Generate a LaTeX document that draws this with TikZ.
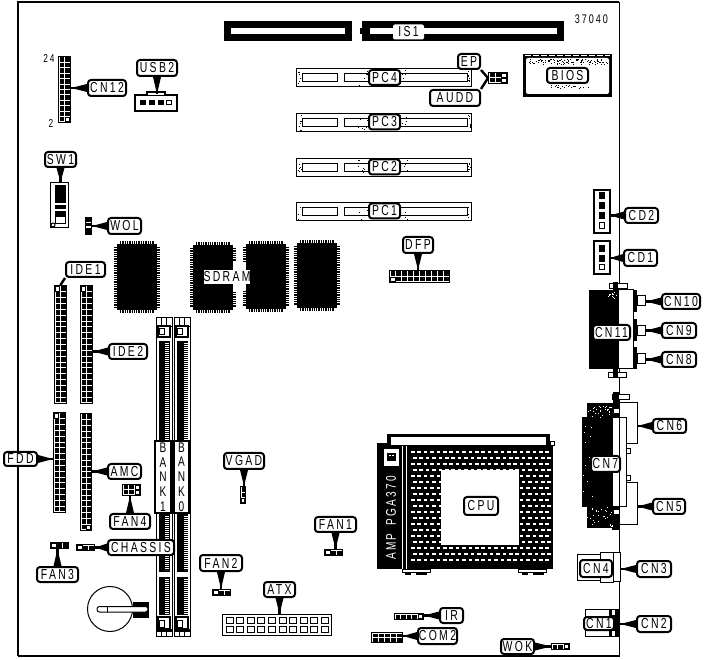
\documentclass[tikz,border=0pt]{standalone}
\usepackage{fontspec}
\setmainfont[LetterSpace=16,FakeStretch=0.72]{Liberation Sans}
\usetikzlibrary{calc}
\tikzset{
  lbl/.style={draw=black,fill=white,line width=2pt,rounded corners=3pt,inner sep=0pt,font=\fontsize{14.5}{14.5}\selectfont,text=black},
  bare/.style={fill=white,inner sep=0pt,rounded corners=2pt,font=\fontsize{14.5}{14.5}\selectfont},
  hdrbox/.style={draw=black,fill=white,line width=1pt,inner sep=0pt},
  holpin/.style={fill=white,draw=black,line width=.7pt},
  thin1/.style={line width=1pt,draw=black},
  bankbox/.style={draw,line width=2pt,fill=white,inner sep=0pt,minimum height=72pt,align=center,font=\fontsize{14}{14.8}\selectfont},
}
% label: name x0 y0 x1 y1 text  (outer bounds in pixels)
\newcommand\lab[6]{%
  \pgfmathsetmacro\lbW{#4-#2-2}\pgfmathsetmacro\lbH{#5-#3-2}%
  \node[lbl,minimum width=\lbW pt,minimum height=\lbH pt] (#1) at ({(#2+#4)/2},{(#3+#5)/2}) {#6};}
% header: name x0 y0 x1 y1 cols rows
\newcommand\hdr[7]{%
  \pgfmathsetmacro\lbW{#4-#2-1}\pgfmathsetmacro\lbH{#5-#3-1}%
  \pgfmathsetmacro\hPw{(#4-#2-2)/#6}\pgfmathsetmacro\hPh{(#5-#3-2)/#7}%
  \xdef\hXo{#2}\xdef\hYo{#3}\xdef\hPW{\hPw}\xdef\hPH{\hPh}%
  \node[hdrbox,minimum width=\lbW pt,minimum height=\lbH pt] (#1) at ({(#2+#4)/2},{(#3+#5)/2}) {};
  \foreach \ii in {1,...,#6}{\foreach \jj in {1,...,#7}{%
    \fill[black] ({#2+1.5+(\ii-1)*\hPw},{#3+1.5+(\jj-1)*\hPh}) rectangle +({\hPw-1},{\hPh-1});}}%
}
% hollow pin of the last header: column, row
\newcommand\hol[2]{\filldraw[holpin] ({\hXo+1.8+(#1-1)*\hPW},{\hYo+1.8+(#2-1)*\hPH}) rectangle +({\hPW-1.6},{\hPH-1.6});}
% solid body node
\newcommand\blk[5]{%
  \pgfmathsetmacro\lbW{#4-#2-1}\pgfmathsetmacro\lbH{#5-#3-1}%
  \node[hdrbox,minimum width=\lbW pt,minimum height=\lbH pt] (#1) at ({(#2+#4)/2},{(#3+#5)/2}) {};}
% wedge connectors
\newcommand\wh[2]{%
  \fill[black] ($(#1)+(0,-4)$) -- (#1 -| #2) -- ($(#1)+(0,4)$) -- cycle;
  \draw[line width=2.4pt] (#1) -- (#1 -| #2);}
\newcommand\whr[2]{\wh{#1}{#2}}
\newcommand\wv[2]{%
  \fill[black] ($(#1)+(-4,0)$) -- (#1 |- #2) -- ($(#1)+(4,0)$) -- cycle;
  \draw[line width=2.4pt] (#1) -- (#1 |- #2);}
% PCI slot
\newcommand\pcslot[3]{%
  \draw[thin1,fill=white] (296.5,#1) rectangle (471.5,{#1+18});
  \draw[thin1] (302.5,{#1+5}) rectangle (337,{#1+13});
  \draw[thin1] (344.5,{#1+5}) rectangle (372,{#1+13});
  \draw[thin1] (398,{#1+5}) rectangle (467,{#1+13});
  \foreach \n in {1,...,#3}{%
    \fill ({298+rnd*3},{#1+1+rnd*16}) rectangle +(1,1);
    \fill ({467.5+rnd*3},{#1+1+rnd*16}) rectangle +(1,1);
    \fill ({358+rnd*10},{#1+1+rnd*16}) rectangle +(1,1);
    \fill ({400+rnd*8},{#1+1+rnd*16}) rectangle +(1,1);}
  \lab{#2}{368}{#1-1}{401}{#1+18}{#2}}
% DIMM socket
\newcommand\dimm[3]{%
  \draw[thin1,fill=white] (#1,317.5) rectangle ({#1+16},636.5);
  \draw[thin1] ({#1+5.5},317.5) -- ({#1+5.5},327) ({#1+10.5},317.5) -- ({#1+10.5},327) (#1,327) -- ({#1+16},327);
  \draw[line width=1.5pt] ({#1+2},326) rectangle ({#1+14},337);
  \draw[thin1,fill=white] ({#1+3},329) rectangle ({#1+8},335);
  \fill ({#1+3},341) rectangle ({#1+14},440);
  \fill ({#1+3},514) rectangle ({#1+14},572);
  \fill ({#1+3},577) rectangle ({#1+14},615);
  \draw[white,line width=#3pt,dash pattern=on .9pt off 1.1pt] (#2,343) -- (#2,440) (#2,516) -- (#2,570) (#2,579) -- (#2,614);
  \draw[line width=1.5pt,fill=white] ({#1+2},617) rectangle ({#1+14},629);
  \draw[thin1,fill=white] ({#1+3},620) rectangle ({#1+8},627);
  \fill (#1,629) rectangle ({#1+16},631.5);
  \draw[thin1] ({#1+5.5},631) -- ({#1+5.5},636.5) ({#1+10.5},631) -- ({#1+10.5},636.5);}
% memory chip
\newcommand\chip[4]{%
  \fill (#1,#2) rectangle (#3,#4);
  \draw[line width=3pt,dash pattern=on 1.3pt off 1pt] ({#1-1.5},{#2+3}) -- ({#1-1.5},{#4-3}) ({#3+1.5},{#2+3}) -- ({#3+1.5},{#4-3});
  \draw[line width=3pt,dash pattern=on 1.3pt off 1pt] ({#1+3},{#2-1.5}) -- ({#3-3},{#2-1.5}) ({#1+3},{#4+1.5}) -- ({#3-3},{#4+1.5});}
\begin{document}
\begin{tikzpicture}[x=1pt,y=-1pt]
\useasboundingbox (0,0) rectangle (705,660);
\fill[white] (0,0) rectangle (705,660);
\pgfmathsetseed{11}
% board
\draw[line width=2pt] (619,2) -- (18,2) -- (18,656);
\draw[line width=1.3pt] (18,656) -- (619.5,656) -- (619.5,2);
\node[inner sep=0pt,font=\fontsize{12.5}{13}\selectfont] (num) at (591.5,19) {37040};
% ISA slots
\draw[line width=7pt] (227.5,24.5) rectangle (348.5,37.5);
\draw[line width=7pt] (365.5,24.5) rectangle (560.5,37.5);
\fill (360,28) rectangle (370,34);
\fill[white] (370,28) rectangle (395,34);
\fill[white] (422,28) rectangle (556,34);
\node[bare,minimum width=31pt,minimum height=15pt] (IS1) at (408.5,32) {IS1};
% PCI
\pcslot{69}{PC4}{7}
\pcslot{113.5}{PC3}{7}
\pcslot{158.5}{PC2}{7}
\pcslot{202.5}{PC1}{3}
% EP / AUDD
\hdr{epc}{488}{72}{508}{84}{3}{2}
\hol{3}{2}
\hol{3}{1}
\lab{EP}{457}{53}{481}{70}{EP}
\lab{AUDD}{429}{89}{481}{107}{AUDD}
\draw[line width=2.4pt] (EP.south east) -- (epc.west);
\draw[line width=2.4pt] (AUDD.north east) -- (epc.west);
% BIOS
\fill (523,54) rectangle (612,97);
\fill[white,rounded corners=2pt] (526,58) rectangle (609,94);
\draw[white,line width=1pt,dash pattern=on 6pt off 2pt] (525,55.5) -- (610,55.5);
\foreach \n in {1,...,110}{\fill ({527+rnd*81},{59+rnd*5}) rectangle +(1,1);}
\foreach \n in {1,...,22}{\fill ({547+rnd*44},{85+rnd*3}) rectangle +(1,1);}
\lab{BIOS}{546}{67}{589}{84}{BIOS}
% CD connectors
\blk{cd2}{594}{190}{610}{233}
\draw[line width=2pt] (cd2.south west) rectangle (cd2.north east);
\foreach \yy in {192,202,212}{\fill (599,\yy) rectangle +(6,7);}
\draw[thin1] (599.5,222.5) rectangle (604.5,229);
\lab{CD2}{624}{207}{659}{224}{CD2}
\whr{CD2.west}{cd2.east}
\blk{cd1}{594}{241}{610}{274}
\draw[line width=2pt] (cd1.south west) rectangle (cd1.north east);
\foreach \yy in {245,255}{\fill (599,\yy) rectangle +(6,7);}
\draw[thin1] (599.5,264.5) rectangle (604.5,270);
\lab{CD1}{623}{249}{658}{267}{CD1}
\whr{CD1.west}{cd1.east}
% CN12
\hdr{hcn12}{58}{56}{71}{123}{2}{12}
\hol{2}{12}
\node[inner sep=0pt,font=\fontsize{11.5}{11}\selectfont] (n24) at (49,58) {24};
\node[inner sep=0pt,font=\fontsize{11.5}{11}\selectfont] (n2) at (51,123) {2};
\lab{CN12}{87}{79}{127}{97}{CN12}
\whr{CN12.west}{hcn12.east}
% USB2
\blk{husb}{134}{94}{178}{112}
\draw[line width=2pt] (135,95) rectangle (177,111);
\draw[line width=1.5pt,fill=white] (147,95) -- (147,92) -- (165,92) -- (165,95);
\foreach \xx in {140,149,158}{\fill (\xx,100) rectangle +(6,5.5);}
\draw[thin1] (166.5,100.5) rectangle (171,105);
\lab{USB2}{136}{59}{178}{77}{USB2}
\wv{USB2.south}{husb.north}
% SW1
\blk{hsw}{50}{182}{69}{228}
\fill (55,185) rectangle (66,203);
\fill (55,205) rectangle (66,209);
\fill (55,211) rectangle (66,224);
\filldraw[fill=white,draw=white] (56.5,217.5) rectangle (64.5,222);
\draw[thin1,fill=white] (53,225) circle (2);
\lab{SW1}{44}{151}{77}{168}{SW1}
\wv{SW1.south}{hsw.north}
% WOL
\node[fill=black,inner sep=0pt,minimum width=7pt,minimum height=18pt] (hwol) at (88.5,226) {};
\fill[white] (86,222) rectangle (91,223);
\fill[white] (86,226) rectangle (91,228);
\lab{WOL}{107}{217}{142}{235}{WOL}
\wh{WOL.west}{hwol.east}
% chips
\chip{117}{244}{157}{310}
\chip{193}{245}{233}{310}
\chip{246}{244}{286}{309}
\chip{297}{243}{337}{308}
\fill[white] (233,262) rectangle (246,291);
\node[bare,rounded corners=0pt,minimum width=46pt,minimum height=14pt] (SDRAM) at (227,277) {SDRAM};
% DFP
\hdr{hdfp}{389}{270}{450}{283}{10}{2}
\hol{1}{2}
\lab{DFP}{402}{236}{434}{254}{DFP}
\wv{DFP.south}{hdfp.north}
% IDE
\hdr{hide1}{54}{285}{67}{404}{2}{20}
\hol{1}{1}
\hdr{hide2}{80}{285}{93}{404}{2}{20}
\hol{1}{1}
\lab{IDE1}{65}{261}{106}{278}{IDE1}
\draw[line width=2.4pt] (IDE1.south west) -- (hide1.north);
\lab{IDE2}{108}{343}{148}{360}{IDE2}
\whr{IDE2.west}{hide2.east}
% FDD / AMC
\hdr{hfdd}{53}{412}{66}{513}{2}{17}
\hol{1}{1}
\hdr{hamc}{80}{413}{92}{531}{2}{20}
\hol{2}{20}
\lab{FDD}{3}{451}{38}{467}{FDD}
\wh{FDD.east}{hfdd.west}
\lab{AMC}{107}{463}{142}{480}{AMC}
\whr{AMC.west}{hamc.east}
% DIMM
\dimm{156}{167}{4}
\dimm{174}{185.5}{4}
\node[bankbox,minimum width=16pt] (bank1) at (163,477) {B\\A\\N\\K\\1};
\node[bankbox,minimum width=15pt] (bank0) at (181.5,477) {B\\A\\N\\K\\0};
% FAN4 / CHASSIS / FAN3
\hdr{hfan4}{122}{484}{141}{496}{3}{2}
\hol{3}{2}
\hol{3}{1}
\lab{FAN4}{109}{513}{151}{530}{FAN4}
\wv{FAN4.north}{hfan4.south}
\hdr{hchas}{76}{544}{95}{551}{3}{1}
\hol{1}{1}
\lab{CHASSIS}{107}{539}{175}{556}{CHASSIS}
\whr{CHASSIS.west}{hchas.east}
\hdr{hfan3}{50}{542}{69}{549}{3}{1}
\hol{1}{1}
\lab{FAN3}{36}{566}{79}{583}{FAN3}
\wv{FAN3.north}{hfan3.south}
% battery
\draw[thin1] (110,609) circle (22.5);
\fill (133,602) rectangle (149,618);
\draw[thin1,fill=white,rounded corners=2.5pt] (97,606.5) rectangle (148,612);
\draw[thin1] (107,606.5) -- (107,612);
% VGAD
\hdr{hvgad}{240}{486}{246}{504}{1}{3}
\hol{1}{3}
\lab{VGAD}{223}{452}{265}{470}{VGAD}
\wv{VGAD.south}{hvgad.north}
% FAN2 / FAN1
\hdr{hfan2}{212}{589}{231}{596}{3}{1}
\hol{1}{1}
\lab{FAN2}{199}{554}{243}{572}{FAN2}
\wv{FAN2.south}{hfan2.north}
\hdr{hfan1}{324}{549}{343}{556}{3}{1}
\hol{1}{1}
\lab{FAN1}{314}{516}{357}{533}{FAN1}
\wv{FAN1.south}{hfan1.north}
% ATX
\blk{hatx}{222}{614}{332}{636}
\foreach \i in {0,...,9}{%
  \draw[thin1] ({226+\i*10.6},617.5) rectangle +(7,6);
  \draw[thin1] ({226+\i*10.6},626.5) rectangle +(7,6);}
\lab{ATX}{263}{581}{296}{598}{ATX}
\wv{ATX.south}{hatx.north}
% IR / COM2 / WOK
\hdr{hir}{394}{613}{424}{620}{5}{1}
\hol{5}{1}
\lab{IR}{439}{607}{464}{624}{IR}
\whr{IR.west}{hir.east}
\hdr{hcom}{371}{632}{403}{643}{5}{2}
\lab{COM2}{417}{627}{458}{645}{COM2}
\whr{COM2.west}{hcom.east}
\hdr{hwok}{551}{643}{570}{650}{3}{1}
\hol{3}{1}
\lab{WOK}{500}{638}{535}{655}{WOK}
\wh{WOK.east}{hwok.west}
% CPU socket
\fill (387,434) rectangle (550,444);
\fill (377,443) rectangle (553,569);
\fill[white] (391,437) rectangle (546,445.5);
\filldraw[fill=white,draw=black,line width=1pt] (550,442) rectangle (554,446);
\foreach \r in {0,...,18}{\foreach \c in {0,...,21}{%
  \pgfmathsetmacro\sx{411+\c*6.4+mod(\r,2)*2}
  \fill[white] (\sx,{451+\r*6}) rectangle +(3.6,2);}}
\fill[white] (441,470) rectangle (519,545);
\fill (377,446) rectangle (410,569);
\fill[white] (402,446) rectangle (403,569);
\fill[white] (405.5,446) rectangle (406.5,569);
\fill[white] (384,449) rectangle (399,466);
\fill (387,453) rectangle (396,461);
\fill[white] (389,455) rectangle (391,456.5);
\fill[white] (392,455) rectangle (394,456.5);
\node[inner sep=0pt,rotate=90,text=white,font=\fontsize{14}{14}\selectfont] (amp) at (391,518) {\addfontfeature{LetterSpace=16}AMP\hspace{8pt}PGA370};
\filldraw[fill=white,draw=black,line width=1pt] (402,569) rectangle (430,572);
\filldraw[fill=white,draw=black,line width=1pt] (518,569) rectangle (546,572);
\fill (405,572) rectangle (411,575);
\fill (416,572) rectangle (427,575);
\fill (522,572) rectangle (528,575);
\fill (533,572) rectangle (544,575);
\lab{CPU}{463}{496}{499}{516}{CPU}
% right audio block
\fill (589,290) rectangle (618,369);
\draw[thin1,fill=white] (618,290) rectangle (633,369);
\fill (633,290) rectangle (637,312);
\fill (633,319) rectangle (637,341);
\fill (633,347) rectangle (637,369);
\draw[thin1,fill=white] (609.5,283.5) rectangle (627.5,288.5);
\draw[thin1,fill=white] (608.5,372.5) rectangle (626.5,377.5);
\fill (613,282) rectangle (618,290);
\fill (613,369) rectangle (618,378);
\foreach \n in {1,...,14}{\fill[white] ({608+rnd*8},{292+rnd*6}) rectangle +(1,1);}
\node[hdrbox,minimum width=8pt,minimum height=10pt] (jk10) at (641.5,300.5) {};
\node[hdrbox,minimum width=8pt,minimum height=10pt] (jk9) at (641.5,330.5) {};
\node[hdrbox,minimum width=8pt,minimum height=10pt] (jk8) at (641.5,358.5) {};
\lab{CN11}{592}{324}{631}{341}{CN11}
\lab{CN10}{661}{293}{701}{310}{CN10}
\lab{CN9}{661}{322}{697}{339}{CN9}
\lab{CN8}{661}{351}{697}{368}{CN8}
\whr{CN10.west}{jk10.east}
\whr{CN9.west}{jk9.east}
\whr{CN8.west}{jk8.east}
% right D-sub block
\fill (587,403) rectangle (613,528);
\fill (582,417) rectangle (587,507);
\fill (610,403) rectangle (619,417);
\fill (610,507) rectangle (619,528);
\draw[thin1,fill=white] (612.5,394.5) rectangle (629,400);
\fill (613,392) rectangle (619,403);
\fill (612,515) rectangle (619,530);
\foreach \n in {1,...,28}{\fill[white] ({587+rnd*25},{403+rnd*14}) rectangle +(1,1);}
\foreach \n in {1,...,28}{\fill[white] ({587+rnd*26},{507+rnd*20}) rectangle +(1,1);}
\foreach \n in {1,...,12}{\fill[white] ({583+rnd*10},{420+rnd*90}) rectangle +(1,1);}
\draw[thin1,fill=white] (613,409) rectangle (619,414);
\draw[thin1,fill=white] (613,510) rectangle (619,515);
\node[hdrbox,minimum width=18pt,minimum height=41pt] (sh6) at (628,423.5) {};
\node[hdrbox,minimum width=18pt,minimum height=42pt] (sh5) at (628,504) {};
\draw[thin1,fill=white] (612,417.5) rectangle (626,507);
\draw[thin1] (619.5,403) -- (619.5,528);
\draw[thin1,fill=white] (626,448.5) rectangle (630,454);
\draw[thin1,fill=white] (626,475.5) rectangle (630,481);
\lab{CN7}{590}{455}{621}{473}{CN7}
\lab{CN6}{652}{418}{687}{434}{CN6}
\lab{CN5}{652}{498}{686}{515}{CN5}
\whr{CN6.west}{sh6.east}
\whr{CN5.west}{sh5.east}
% CN4 / CN3
\draw[thin1,fill=white] (577.5,554.5) rectangle (600,580.5);
\draw[thin1,fill=white] (600.5,552.5) rectangle (613,582);
\node[hdrbox,minimum width=7pt,minimum height=29pt] (bcn4) at (616.5,567) {};
\lab{CN4}{579}{559}{613}{578}{CN4}
\lab{CN3}{636}{560}{672}{578}{CN3}
\wh{CN3.west}{bcn4.east}
% CN1 / CN2
\draw[thin1,fill=white] (585.5,609.5) rectangle (610,636.5);
\node[fill=black,inner sep=0pt,minimum width=11pt,minimum height=28pt] (bcn1) at (614.5,623) {};
\fill[white] (612,610) rectangle (615,615);
\fill[white] (612,631) rectangle (615,636);
\lab{CN1}{583}{616}{615}{631}{CN1}
\lab{CN2}{636}{615}{672}{633}{CN2}
\wh{CN2.west}{bcn1.east}
\end{tikzpicture}
\end{document}
